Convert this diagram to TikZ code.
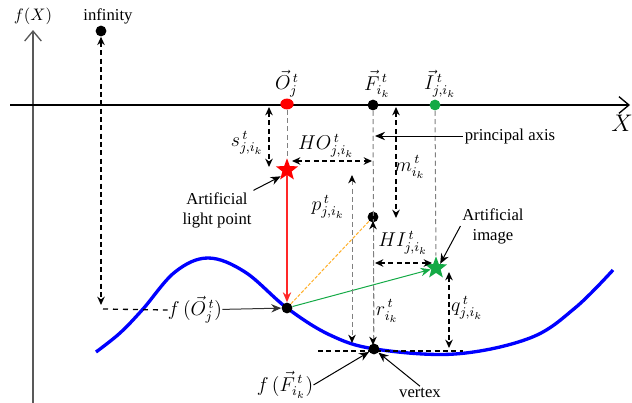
\documentclass[tikz,border=0pt]{standalone}
\usepackage{fontspec}
\setmainfont{Liberation Serif}
\usetikzlibrary{arrows.meta,shapes.geometric}
\definecolor{imggreen}{RGB}{20,170,70}
\definecolor{rayorange}{RGB}{255,175,40}
\definecolor{rayred}{RGB}{255,40,40}
\tikzset{dot/.style={circle,fill,inner sep=0pt,minimum size=6.5pt},
 star5/.style={star,star points=5,star point ratio=2.4,fill,draw=none,inner sep=0pt,minimum size=14pt},
 dd/.style={thick,dash pattern=on 3pt off 2pt,{Stealth[length=5pt,width=4.5pt]}-{Stealth[length=5pt,width=4.5pt]}},
 gd/.style={gray,semithick,dash pattern=on 3pt off 2pt},
 arr/.style={semithick,-{Stealth[length=6pt,width=5pt]}},
 lbl/.style={font=\large,inner sep=0pt},
 ax/.style={line width=0.8pt,-{Straight Barb[length=6pt,width=10pt]}}}
\begin{document}
\begin{tikzpicture}[x=0.6pt,y=-0.6pt]
\useasboundingbox(0,0)rectangle(632,403);
% axes
\coordinate(yb)at(33,410);\coordinate(yt)at(33,30);\coordinate(xl)at(10,105);\coordinate(xr)at(630,105);
\draw[ax,gray!70!black](yb)--(yt);\draw[ax](xl)--(xr);
\node(fx)at(33,16){$f(X)$};\node[font=\Large,inner sep=0pt](xlbl)at(622,123){$X$};
% curve
\draw[blue,line width=2pt]plot[smooth,tension=0.6]coordinates{(96,352)(120,333)(143,309)(175,272)(208,258)(245,272)(287,308)(330,335)(375,349)(455,354)(530,338)(575,308)(613,270)};
% points
\node[dot](inf)at(101,31){};\node[inner sep=0pt](inflbl)at(108,16){infinity};
\node[ellipse,fill=red,inner sep=0pt,minimum width=8pt,minimum height=6.5pt](O)at(287,104){};
\node[dot](F)at(373,105){};\node[dot,imggreen](I)at(435,105){};
\node[lbl](Olbl)at(287,84){$\vec{O}^{\,t}_{j}$};\node[lbl](Flbl)at(377,84){$\vec{F}^{\,t}_{i_k}$};\node[lbl](Ilbl)at(440,84){$\vec{I}^{\,t}_{j,i_k}$};
\node[star5,red](L)at(287,170){};\node[star5,imggreen](A)at(436,268){};
\node[dot](P)at(287,308){};\node[dot](Fo)at(373,217){};\node[dot](V)at(374,349){};
% guides
\foreach\a/\b in{O/L,F/V,I/A}\draw[gd](\a)--(\b);
\coordinate(h1)at(318,351);\coordinate(h2)at(463,351);\draw[thick,dash pattern=on 3pt off 2pt](h1)--(h2);
% rays
\draw[arr,rayred,line width=0.8pt](L)--(P);\draw[rayorange,semithick,dash pattern=on 2pt off 1pt](P)--(Fo);\draw[arr,imggreen](P)--(A);
% distances
\coordinate(inf2)at(101,305);\coordinate(inf3)at(103,309);
\coordinate(s1)at(269,107);\coordinate(s2)at(269,167);
\coordinate(ho1)at(292,161);\coordinate(ho2)at(372,161);
\coordinate(m1)at(396,107);\coordinate(m2)at(396,218);
\coordinate(hi1)at(375,263);\coordinate(hi2)at(432,263);
\coordinate(q1)at(449,272);\coordinate(q2)at(449,348);
\coordinate(p1)at(352,175);\coordinate(p2)at(352,343);
\coordinate(r1)at(373,221);\coordinate(r2)at(373,345);
\foreach\a/\b in{inf/inf2,s1/s2,ho1/ho2,m1/m2,hi1/hi2,q1/q2}\draw[dd](\a)--(\b);
\draw[gd,{Stealth[length=5pt,width=4.5pt,black]}-{Stealth[length=5pt,width=4.5pt,black]}](p1)--(p2);
\draw[gd,{Stealth[length=5pt,width=4.5pt,black]}-{Stealth[length=5pt,width=4.5pt,black]}](r1)--(r2);
\node[lbl](slbl)at(247,143){$s^{\,t}_{j,i_k}$};\node[lbl](holbl)at(326,146){$HO^{\,t}_{j,i_k}$};
\node[lbl](mlbl)at(410,167){$m^{\,t}_{i_k}$};\node[lbl](plbl)at(328,207){$p^{\,t}_{j,i_k}$};
\node[lbl](hilbl)at(403,243){$HI^{\,t}_{j,i_k}$};\node[lbl](rlbl)at(387,311){$r^{\,t}_{i_k}$};
\node[lbl](qlbl)at(467,308){$q^{\,t}_{j,i_k}$};
% annotations
\node[lbl](fO)at(195,310){$f\,(\vec{O}^{\,t}_{j})$};\draw[dashed,thick](inf3)--(fO.west);\draw[arr,gray!40!black](fO)--(P);
\node[lbl](fF)at(285,385){$f\,(\vec{F}^{\,t}_{i_k})$};\draw[arr](fF.east)--(V);
\node[inner sep=1pt](vx)at(420,393){vertex};\draw[arr](vx.north)--(V);
\node[inner sep=1pt](pa)at(510,136){principal axis};\coordinate(pax)at(375,136);\draw[arr](pa.west)--(pax);
\node[align=center,inner sep=1pt](alp)at(217,210){Artificial\\light point};\draw[arr](alp.north east)--(L.south west);
\node[align=center,inner sep=1pt](aim)at(493,226){Artificial\\image};\draw[arr](aim.west)--(A.north east);
\end{tikzpicture}
\end{document}
